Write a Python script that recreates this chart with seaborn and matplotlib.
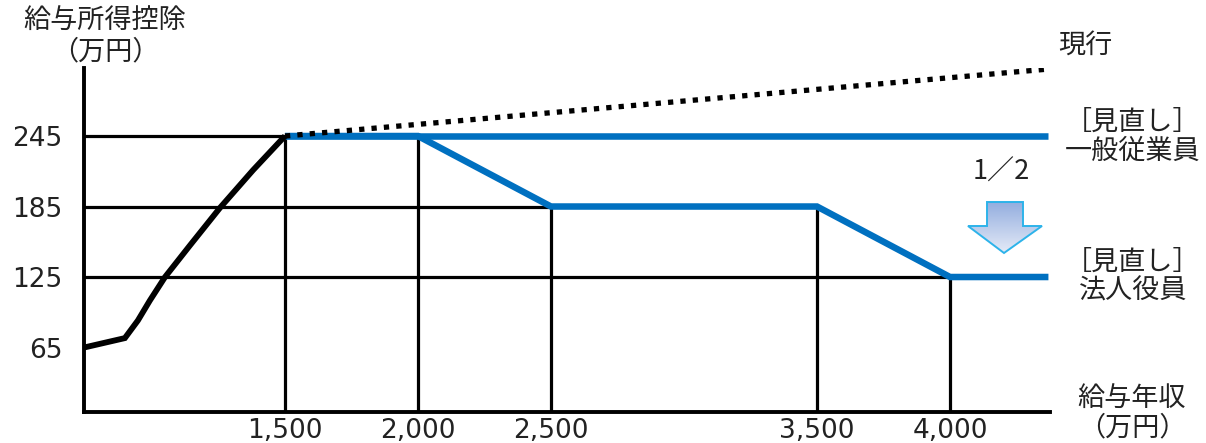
import numpy as np
import pandas as pd
import matplotlib
matplotlib.use("Agg")
import matplotlib.pyplot as plt
from matplotlib.patches import Polygon
from matplotlib.colors import LinearSegmentedColormap
import seaborn as sns

# Salary income (万円) vs. employment income deduction (万円)
current_curve_x = [745, 898, 947, 992, 1049, 1143, 1256, 1380, 1500]
current_curve_y = [65, 73, 88, 105, 125, 152, 184, 216, 245]
current_upper_x = [1500, 4370]
current_upper_y = [245, 302]
employee_x = [1500, 4370]
employee_y = [245, 245]
officer_x = [1500, 2000, 2500, 3500, 4000, 4370]
officer_y = [245, 245, 185, 185, 125, 125]

# guide lines at the breakpoints of the revised schedules
vguide_x = [1500, 2000, 2500, 3500, 4000]
vguide_top = [245, 245, 185, 185, 125]
hguide_y = [245, 185, 125]
hguide_end = [1500, 2500, 4000]

ytick_values = [65, 125, 185, 245]
ytick_labels = ["65", "125", "185", "245"]
xtick_values = [1500, 2000, 2500, 3500, 4000]
xtick_labels = ["1,500", "2,000", "2,500", "3,500", "4,000"]

sns.set_theme(style="white")
plt.rcParams["font.family"] = ["Noto Sans CJK JP", "DejaVu Sans"]

W, H = 1206, 443
fig = plt.figure(figsize=(W / 100, H / 100), dpi=100)
ax = fig.add_axes([84 / W, 1 - 412 / H, (1050 - 84) / W, (412 - 68) / H])

XMIN, XMAX = 744.4, 4375.9
YMIN, YMAX = 10.1, 302.9
ax.set_xlim(XMIN, XMAX)
ax.set_ylim(YMIN, YMAX)

BLUE = "#0070C0"

# guide lines
ax.hlines(hguide_y, XMIN, hguide_end, color="black", lw=2.3, zorder=1)
ax.vlines(vguide_x, YMIN, vguide_top, color="black", lw=2.3, zorder=1)

curve = pd.DataFrame({"x": current_curve_x, "y": current_curve_y})
upper = pd.DataFrame({"x": current_upper_x, "y": current_upper_y})
emp = pd.DataFrame({"x": employee_x, "y": employee_y})
off = pd.DataFrame({"x": officer_x, "y": officer_y})

sns.lineplot(data=emp, x="x", y="y", ax=ax, color=BLUE, lw=4.7,
             estimator=None, sort=False, zorder=3,
             solid_capstyle="butt")
sns.lineplot(data=off, x="x", y="y", ax=ax, color=BLUE, lw=4.7,
             estimator=None, sort=False, zorder=3,
             solid_capstyle="butt", solid_joinstyle="miter")
sns.lineplot(data=curve, x="x", y="y", ax=ax, color="black", lw=4.2,
             estimator=None, sort=False, zorder=4,
             solid_capstyle="butt", solid_joinstyle="miter")
sns.lineplot(data=upper, x="x", y="y", ax=ax, color="black", lw=3.8,
             estimator=None, sort=False, zorder=5,
             linestyle=(0, (1, 1.35)), dash_capstyle="butt")

ax.set_xlabel("")
ax.set_ylabel("")
for side in ("top", "right"):
    ax.spines[side].set_visible(False)
for side in ("left", "bottom"):
    ax.spines[side].set_color("black")
    ax.spines[side].set_linewidth(2.8)

ax.set_xticks(xtick_values)
ax.set_xticklabels(xtick_labels, family="DejaVu Sans", fontsize=19,
                   color="#222222")
ax.set_yticks(ytick_values)
ax.set_yticklabels(ytick_labels, family="DejaVu Sans", fontsize=19,
                   color="#222222")
ax.tick_params(axis="x", length=0, pad=4)
ax.tick_params(axis="y", length=0, pad=15.5)

# annotation layer in pixel coordinates
ov = fig.add_axes([0, 0, 1, 1], facecolor="none")
ov.set_xlim(0, W)
ov.set_ylim(H, 0)
ov.axis("off")

TXT = "#222222"
FS = 19.5
ov.text(105, 36, "給与所得控除\n（万円）", ha="center", va="center",
        fontsize=FS, color=TXT, linespacing=1.2)
ov.text(1085, 45, "現行", ha="center", va="center", fontsize=FS, color=TXT)
ov.text(1133, 137, "［見直し］\n一般従業員", ha="center", va="center",
        fontsize=FS, color=TXT, linespacing=1.1)
ov.text(1133, 277, "［見直し］\n法人役員", ha="center", va="center",
        fontsize=FS, color=TXT, linespacing=1.1)
ov.text(1132, 413, "給与年収\n（万円）", ha="center", va="center",
        fontsize=FS, color=TXT, linespacing=1.1)
ov.text(1001, 172, "1／2", ha="center", va="center", fontsize=FS, color=TXT)

# down arrow with a soft blue gradient
arrow_pts = [(987, 202), (1023, 202), (1023, 226), (1042, 226),
             (1004, 253), (968, 226), (987, 226)]
poly = Polygon(arrow_pts, closed=True, facecolor="none",
               edgecolor="#2DB3EA", lw=1.4, zorder=6)
ov.add_patch(poly)
cmap = LinearSegmentedColormap.from_list("arr", ["#94AEDF", "#E4EAF7"])
grad = np.linspace(0, 1, 100).reshape(-1, 1)
img = ov.imshow(grad, cmap=cmap, aspect="auto",
                extent=(968, 1042, 253, 202), zorder=5)
img.set_clip_path(poly)
ov.set_xlim(0, W)
ov.set_ylim(H, 0)

fig.savefig("out.png", dpi=100)
